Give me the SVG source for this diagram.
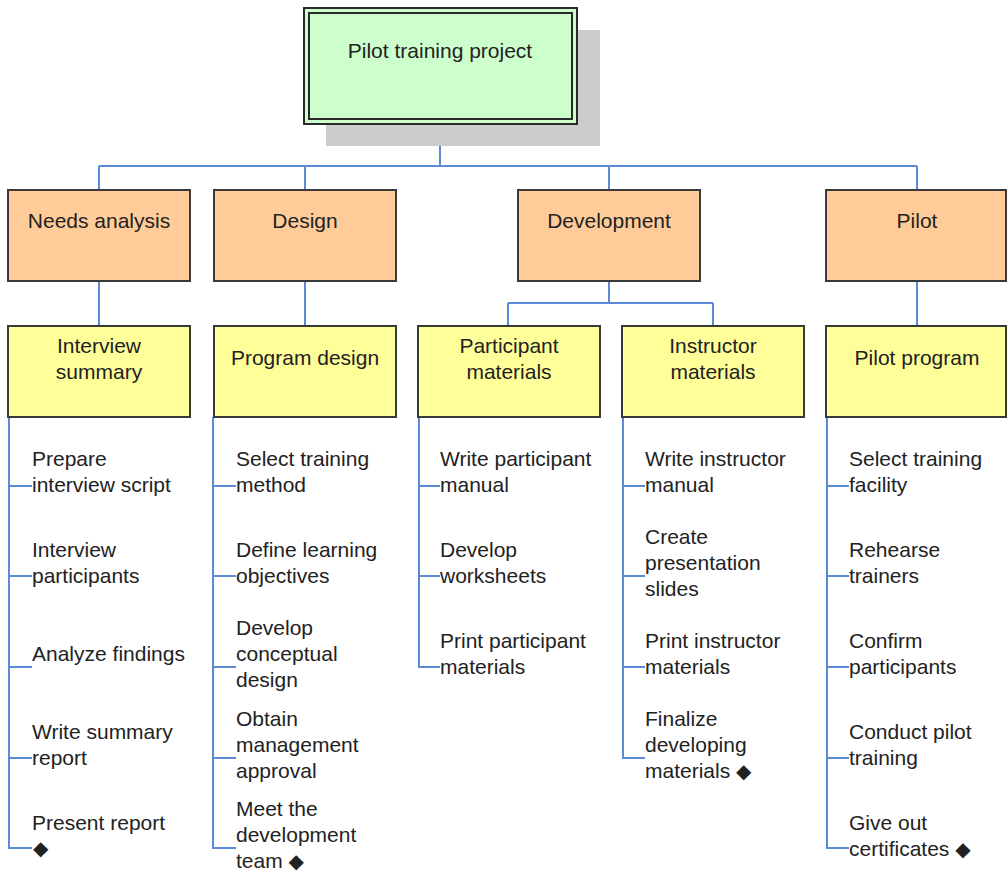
<svg xmlns="http://www.w3.org/2000/svg" width="1008" height="878" viewBox="0 0 1008 878">
<style>
.t{font-family:"Liberation Sans",Arial,sans-serif;font-size:21px;fill:#222}
.c{text-anchor:middle}
.d{font-family:"DejaVu Sans",sans-serif;font-size:20px}
.l2{fill:#ffcc99;stroke:#3a3a3a;stroke-width:2}
.l3{fill:#ffff99;stroke:#3a3a3a;stroke-width:2}
.cn{fill:none;stroke:#5b8bd6;stroke-width:2}
</style>
<rect width="1008" height="878" fill="#fff"/>
<g id="connectors" class="cn">
<path d="M440 124V166M99 166H917M99 166V190M305 166V190M609 166V190M917 166V190"/>
<path d="M99 281V326M305 281V326M609 281V303M508 303H713M508 303V326M713 303V326M917 281V326"/>
<path d="M9 417V848H32M9 486H32M9 576H32M9 667H32M9 758H32"/>
<path d="M213 417V848H236M213 486H236M213 576H236M213 667H236M213 758H236"/>
<path d="M419 417V667H440M419 486H440M419 576H440"/>
<path d="M623 417V758H645M623 486H645M623 576H645M623 667H645"/>
<path d="M827 417V848H849M827 486H849M827 576H849M827 667H849M827 758H849"/>
</g>
<g id="root">
<rect x="326" y="30" width="274" height="116" fill="#cccccc"/>
<rect x="304" y="8" width="273" height="116" fill="#ccffcc" stroke="#2a2a2a" stroke-width="2"/>
<rect x="309" y="13" width="263" height="106" fill="none" stroke="#2a2a2a" stroke-width="2"/>
<text class="t c" x="440" y="58">Pilot training project</text>
</g>
<g id="needs"><rect class="l2" x="8" y="190" width="182" height="91"/><text class="t c" x="99" y="228">Needs analysis</text></g>
<g id="design"><rect class="l2" x="214" y="190" width="182" height="91"/><text class="t c" x="305" y="228">Design</text></g>
<g id="development"><rect class="l2" x="518" y="190" width="182" height="91"/><text class="t c" x="609" y="228">Development</text></g>
<g id="pilot"><rect class="l2" x="826" y="190" width="180" height="91"/><text class="t c" x="917" y="228">Pilot</text></g>
<g id="interview-summary"><rect class="l3" x="8" y="326" width="182" height="91"/><text class="t c" x="99" y="353">Interview<tspan x="99" y="379">summary</tspan></text></g>
<g id="program-design"><rect class="l3" x="214" y="326" width="182" height="91"/><text class="t c" x="305" y="365">Program design</text></g>
<g id="participant-materials"><rect class="l3" x="418" y="326" width="182" height="91"/><text class="t c" x="509" y="353">Participant<tspan x="509" y="379">materials</tspan></text></g>
<g id="instructor-materials"><rect class="l3" x="622" y="326" width="182" height="91"/><text class="t c" x="713" y="353">Instructor<tspan x="713" y="379">materials</tspan></text></g>
<g id="pilot-program"><rect class="l3" x="826" y="326" width="180" height="91"/><text class="t c" x="917" y="365">Pilot program</text></g>
<g id="needs-leaves">
<text class="t" x="32" y="466">Prepare<tspan x="32" y="492">interview script</tspan></text>
<text class="t" x="32" y="557">Interview<tspan x="32" y="583">participants</tspan></text>
<text class="t" x="32" y="661">Analyze findings</text>
<text class="t" x="32" y="739">Write summary<tspan x="32" y="765">report</tspan></text>
<text class="t" x="32" y="830">Present report<tspan x="33" y="855" class="d">◆</tspan></text>
</g>
<g id="design-leaves">
<text class="t" x="236" y="466">Select training<tspan x="236" y="492">method</tspan></text>
<text class="t" x="236" y="557">Define learning<tspan x="236" y="583">objectives</tspan></text>
<text class="t" x="236" y="635">Develop<tspan x="236" y="661">conceptual</tspan><tspan x="236" y="687">design</tspan></text>
<text class="t" x="236" y="726">Obtain<tspan x="236" y="752">management</tspan><tspan x="236" y="778">approval</tspan></text>
<text class="t" x="236" y="816">Meet the<tspan x="236" y="842">development</tspan><tspan x="236" y="868">team <tspan class="d">◆</tspan></tspan></text>
</g>
<g id="participant-leaves">
<text class="t" x="440" y="466">Write participant<tspan x="440" y="492">manual</tspan></text>
<text class="t" x="440" y="557">Develop<tspan x="440" y="583">worksheets</tspan></text>
<text class="t" x="440" y="648">Print participant<tspan x="440" y="674">materials</tspan></text>
</g>
<g id="instructor-leaves">
<text class="t" x="645" y="466">Write instructor<tspan x="645" y="492">manual</tspan></text>
<text class="t" x="645" y="544">Create<tspan x="645" y="570">presentation</tspan><tspan x="645" y="596">slides</tspan></text>
<text class="t" x="645" y="648">Print instructor<tspan x="645" y="674">materials</tspan></text>
<text class="t" x="645" y="726">Finalize<tspan x="645" y="752">developing</tspan><tspan x="645" y="778">materials <tspan class="d">◆</tspan></tspan></text>
</g>
<g id="pilot-leaves">
<text class="t" x="849" y="466">Select training<tspan x="849" y="492">facility</tspan></text>
<text class="t" x="849" y="557">Rehearse<tspan x="849" y="583">trainers</tspan></text>
<text class="t" x="849" y="648">Confirm<tspan x="849" y="674">participants</tspan></text>
<text class="t" x="849" y="739">Conduct pilot<tspan x="849" y="765">training</tspan></text>
<text class="t" x="849" y="830">Give out<tspan x="849" y="856">certificates <tspan class="d">◆</tspan></tspan></text>
</g>
</svg>
